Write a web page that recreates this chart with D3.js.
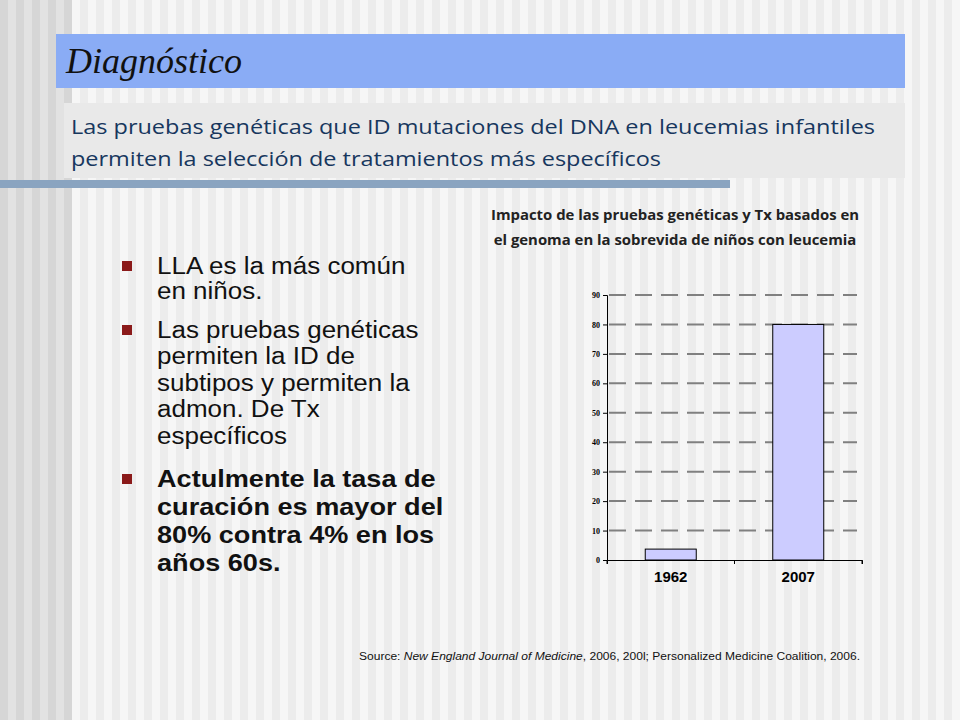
<!DOCTYPE html>
<html><head><meta charset="utf-8">
<script src="https://cdn.jsdelivr.net/npm/d3@7"></script>
<style>body{margin:0;}svg{display:block;}</style>
</head><body>
<svg id="c" width="960" height="720"></svg>
<script>
const categories = ["1962", "2007"];
const values = [3.7, 80];
const yTicks = [0,10,20,30,40,50,60,70,80,90];

const svg = d3.select("#c");
const stripes = d3.range(0, 960, 8);
svg.selectAll("rect.s").data(stripes).join("rect")
  .attr("x", d => d).attr("y", 0).attr("width", 8).attr("height", 720)
  .attr("fill", (d, i) => d < 72 ? (i % 2 ? "#e2e2e2" : "#d6d6d6") : (i % 2 ? "#f6f6f6" : "#ececec"));
svg.append("rect").attr("x",56).attr("y",34).attr("width",849).attr("height",54).attr("fill","#8aacf5");
svg.append("text").attr("x",66).attr("y",73).attr("font-family","Liberation Serif, serif").attr("font-style","italic")
  .attr("font-size",36).attr("fill","#111").text("Diagnóstico");
svg.append("rect").attr("x",64).attr("y",103).attr("width",841).attr("height",75).attr("fill","#e9e9e9");
svg.append("text").attr("x",71).attr("y",134).attr("font-family","Open Sans, sans-serif").attr("font-size",20).attr("fill","#17375e")
  .attr("textLength",804).attr("lengthAdjust","spacingAndGlyphs")
  .text("Las pruebas genéticas que ID mutaciones del DNA en leucemias infantiles");
svg.append("text").attr("x",71).attr("y",166).attr("font-family","Open Sans, sans-serif").attr("font-size",20).attr("fill","#17375e")
  .attr("textLength",590).attr("lengthAdjust","spacingAndGlyphs")
  .text("permiten la selección de tratamientos más específicos");
svg.append("rect").attr("x",0).attr("y",180).attr("width",730).attr("height",8).attr("fill","#8aa4c0");

const bullets = [
  {y:265, sp:25, lines:["LLA es la más común","en  niños."], bold:false},
  {y:329, sp:26.5, lines:["Las pruebas genéticas","permiten la ID de","subtipos y permiten la","admon. De Tx","específicos"], bold:false},
  {y:478, sp:28, lines:["Actulmente la tasa de","curación es mayor del","80% contra 4% en los","años 60s."], bold:true}
];
bullets.forEach(b => {
  svg.append("rect").attr("x",122).attr("y",b.y-4).attr("width",10).attr("height",10).attr("fill","#8b1a1a");
  b.lines.forEach((l,i) => svg.append("text").attr("x",157).attr("y",b.y+9+i*b.sp)
    .attr("font-family","Liberation Sans, Arial, sans-serif").attr("font-size",b.bold?24:23).attr("font-weight",b.bold?"bold":"normal")
    .attr("transform",`translate(157,0) scale(1.13,1) translate(-157,0)`)
    .attr("fill","#111").text(l));
});

svg.append("text").attr("x",675).attr("y",220).attr("text-anchor","middle").attr("font-family","Open Sans, sans-serif")
  .attr("font-size",14.9).attr("font-weight","bold").attr("fill","#222").text("Impacto de las pruebas genéticas y Tx basados en");
svg.append("text").attr("x",675).attr("y",245).attr("text-anchor","middle").attr("font-family","Open Sans, sans-serif")
  .attr("font-size",14.9).attr("font-weight","bold").attr("fill","#222").text("el genoma en la sobrevida de niños con leucemia");

const x = d3.scaleBand().domain(categories).range([607, 862]).paddingInner(0.6).paddingOuter(0.3);
const y = d3.scaleLinear().domain([0, 90]).range([560, 295]);

svg.append("g").selectAll("line").data(yTicks.slice(1)).join("line")
  .attr("x1",609).attr("x2",857).attr("y1",d=>y(d)).attr("y2",d=>y(d))
  .attr("stroke","#808080").attr("stroke-width",2).attr("stroke-dasharray","17,9");

svg.append("g").selectAll("rect").data(values).join("rect")
  .attr("x",(d,i)=>x(categories[i])).attr("width",x.bandwidth())
  .attr("y",d=>y(d)).attr("height",d=>y(0)-y(d))
  .attr("fill","#ccccff").attr("stroke","#000").attr("stroke-width",1);

const ya = svg.append("g").attr("transform","translate(607,0)")
  .call(d3.axisLeft(y).tickValues(yTicks).tickSize(4));
ya.selectAll("text").attr("font-family","Liberation Serif, serif").attr("font-weight","bold").attr("font-size",8).attr("fill","#000");
const xs = d3.scaleBand().domain(categories).range([607,862]);
const xa = svg.append("g").attr("transform","translate(0,560)")
  .call(d3.axisBottom(xs).tickSize(4).tickSizeOuter(4));
xa.selectAll(".tick line").attr("transform",`translate(${-xs.bandwidth()/2},0)`);
xa.append("line").attr("x1",862).attr("x2",862).attr("y1",0).attr("y2",4).attr("stroke","#000");
xa.selectAll("text").attr("font-family","Liberation Sans, Arial, sans-serif").attr("font-weight","bold").attr("font-size",15).attr("fill","#000").attr("dy","1.0em");

const src = svg.append("text").attr("x",359).attr("y",660).attr("font-family","Liberation Sans, Arial, sans-serif").attr("font-size",10).attr("fill","#111")
  .attr("textLength",501).attr("lengthAdjust","spacingAndGlyphs");
src.append("tspan").text("Source: ");
src.append("tspan").attr("font-style","italic").text("New England Journal of Medicine");
src.append("tspan").text(", 2006, 200l; Personalized Medicine Coalition, 2006.");
</script>
</body></html>
